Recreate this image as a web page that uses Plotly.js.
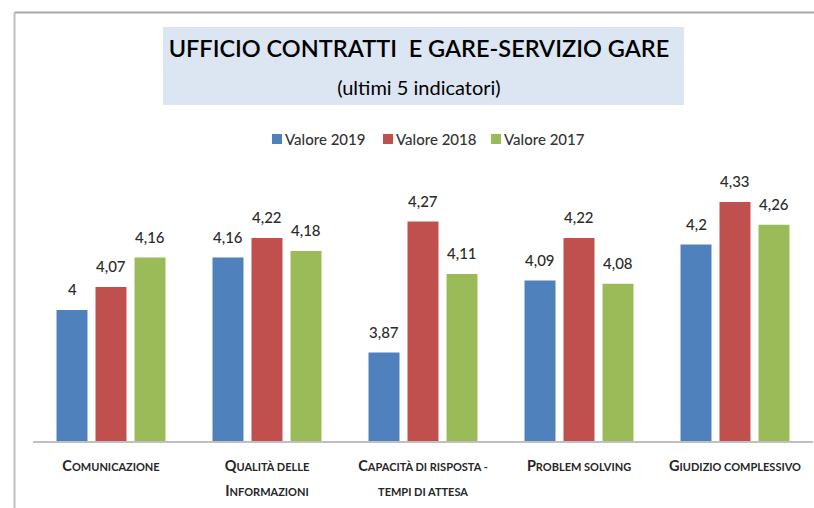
<!DOCTYPE html>
<html>
<head>
<meta charset="utf-8">
<script src="https://cdn.plot.ly/plotly-3.0.1.min.js"></script>
<style>html,body{margin:0;padding:0;background:#fff;}#chart{width:814px;height:508px;}</style>
</head>
<body>
<div id="chart"></div>
<script>
const categories = ["Comunicazione", "Qualità delle<br>Informazioni", "Capacità di risposta -<br>tempi di attesa", "Problem solving", "Giudizio complessivo"];
const seriesNames = ["Valore 2019", "Valore 2018", "Valore 2017"];
const valori2019 = [4.00, 4.16, 3.87, 4.09, 4.20];
const valori2018 = [4.07, 4.22, 4.27, 4.22, 4.33];
const valori2017 = [4.16, 4.18, 4.11, 4.08, 4.26];
const colors = ["#4F81BD", "#C0504D", "#9BBB59"];
const titleText = "UFFICIO CONTRATTI  E GARE-SERVIZIO GARE";
const subtitleText = "(ultimi 5 indicatori)";

const FONT = "Lato, 'Noto Sans', sans-serif";
const W = 814, H = 508;
const M = {l: 33, r: 1, t: 179, b: 67};
const PW = W - M.l - M.r, PH = H - M.t - M.b;
const px2x = p => (p - M.l) / PW;
const py2y = p => (H - M.b - p) / PH;

function smallCaps(label) {
  return label.split("<br>").map(line => {
    let out = "", run = "", runBig = null;
    const flush = () => {
      if (run) out += `<span style="font-size:${runBig ? 14.5 : 11}px">${run}</span>`;
      run = "";
    };
    for (const ch of line) {
      const big = ch !== ch.toLowerCase() && ch === ch.toUpperCase();
      if (runBig !== null && big !== runBig) flush();
      runBig = big;
      run += ch.toUpperCase();
    }
    flush();
    return out;
  }).join("<br>");
}

const xCats = categories.map(c => c.replace("<br>", " "));
const allValues = [valori2019, valori2018, valori2017];
const fmt = v => String(v).replace(".", ",");

const traces = allValues.map((vals, i) => ({
  type: "bar",
  name: seriesNames[i],
  x: xCats,
  y: vals,
  marker: {color: colors[i]},
  hoverinfo: "x+y",
  showlegend: false
}));

const annotations = [];
allValues.forEach((vals, i) => {
  vals.forEach((v, j) => {
    annotations.push({
      x: xCats[j], y: v, xref: "x", yref: "y",
      text: fmt(v), showarrow: false,
      yanchor: "bottom", xanchor: "center",
      xshift: (i - 1) * 39, yshift: 10,
      font: {family: FONT, size: 15, color: "#2b2b2b", weight: 500}
    });
  });
});

const shapes = [
  {type: "rect", xref: "paper", yref: "paper",
   x0: px2x(163), x1: px2x(684), y0: py2y(27), y1: py2y(105),
   fillcolor: "#DCE6F2", line: {width: 0}, layer: "below"},
  {type: "line", xref: "paper", yref: "paper",
   x0: px2x(14.5), x1: px2x(830), y0: py2y(12.5), y1: py2y(12.5),
   line: {color: "#A6A6A6", width: 2}},
  {type: "line", xref: "paper", yref: "paper",
   x0: px2x(14.5), x1: px2x(14.5), y0: py2y(12.5), y1: py2y(520),
   line: {color: "#BFBFBF", width: 2}}
];

// legend (key squares + names)
const legendSquareX = [272, 383, 491];
seriesNames.forEach((name, i) => {
  const sx = legendSquareX[i];
  shapes.push({type: "rect", xref: "paper", yref: "paper",
    x0: px2x(sx), x1: px2x(sx + 10), y0: py2y(134), y1: py2y(144),
    fillcolor: colors[i], line: {width: 0}});
  annotations.push({xref: "paper", yref: "paper",
    x: px2x(sx + 11), y: py2y(139), xanchor: "left", yanchor: "middle",
    text: name, showarrow: false,
    font: {family: FONT, size: 15, color: "#333333", weight: 500}});
});

const layout = {
  width: W, height: H,
  margin: M,
  paper_bgcolor: "#FFFFFF", plot_bgcolor: "#FFFFFF",
  font: {family: FONT, color: "#262626"},
  title: {
    text: `<span style="font-size:23.5px">${titleText}</span><br><span style="font-size:20px;font-weight:normal">${subtitleText}</span>`,
    font: {family: FONT, size: 29, color: "#000000", weight: 600},
    xref: "container", yref: "container",
    x: 419 / W, xanchor: "center",
    y: 1 - 57 / H, yanchor: "top"
  },
  barmode: "group",
  bargap: 0.25,
  bargroupgap: 0.205,
  showlegend: false,
  xaxis: {
    type: "category",
    tickvals: xCats,
    ticktext: categories.map(smallCaps),
    tickfont: {family: FONT, size: 19, color: "#262626", weight: "bold"},
    ticks: "",
    ticklabelstandoff: 5,
    showline: true, linecolor: "#BFBFBF", linewidth: 2,
    showgrid: false, zeroline: false,
    fixedrange: true
  },
  yaxis: {
    range: [3.6, 4.4],
    visible: false,
    showgrid: false, zeroline: false,
    fixedrange: true
  },
  annotations: annotations,
  shapes: shapes
};

Plotly.newPlot("chart", traces, layout, {displayModeBar: false, staticPlot: true});
</script>
</body>
</html>
